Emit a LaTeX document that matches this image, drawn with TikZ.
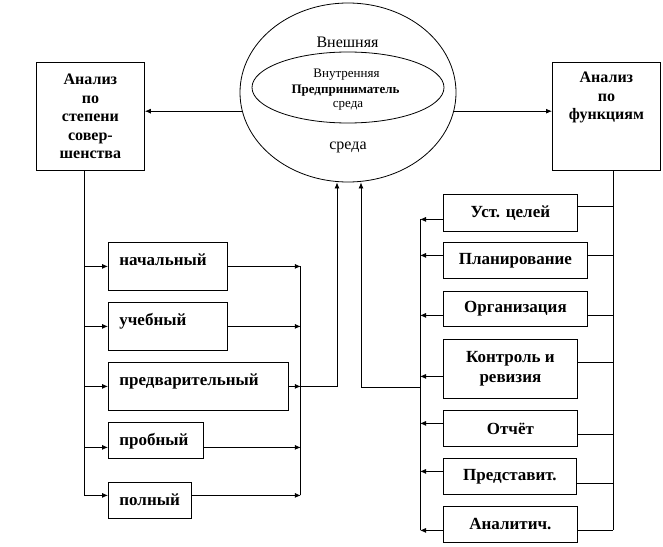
\documentclass[tikz,border=0pt]{standalone}
\usepackage{fontspec}
\setmainfont{Liberation Serif}
\usetikzlibrary{arrows.meta,positioning,shapes.geometric,calc}
\tikzset{
  mybox/.style = {rectangle, draw, line width=0.8pt, anchor=north west, font=\bfseries\fontsize{16}{18.5}\selectfont},
  mylist/.style = {mybox, inner xsep=11pt, inner ysep=0pt, text height=23pt, align=left, font=\bfseries\fontsize{17}{19}\selectfont},
  mystep/.style = {mybox, inner sep=0pt, align=center, font=\bfseries\fontsize{17}{19.5}\selectfont},
  myoval/.style = {ellipse, draw, line width=0.8pt, inner sep=0pt},
  mythin/.style = {line width=0.8pt},
  myarrow/.style = {-{Latex[length=6pt,width=5pt]}, line width=0.8pt},
  mybig/.style = {font=\fontsize{16}{18.5}\selectfont, anchor=base, inner sep=0pt},
  mysmall/.style = {font=\fontsize{13}{15}\selectfont, anchor=base, inner sep=0pt},
}

\begin{document}
\begin{tikzpicture}[x=1pt,y=-1pt]
\useasboundingbox (0,0) rectangle (663,546);
% environment ovals
\node[myoval, minimum width=216pt, minimum height=179pt] (env) at (348,92.5) {};
\node[myoval, minimum width=192pt, minimum height=71pt] (inn) at (348,87.5) {};
\node[mybig] (ext1) at (347.5,47) {Внешняя};
\node[mysmall] (int1) at (346.5,77) {Внутренняя};
\node[mysmall, font=\bfseries\fontsize{13}{15}\selectfont] (ent) at (345.5,93) {Предприниматель};
\node[mysmall] (int2) at (348,107) {среда};
\node[mybig] (ext2) at (348,149) {среда};
% main boxes
\node[mybox, minimum width=108pt, minimum height=108pt, inner sep=0pt, align=center] (sov) at (36,62) {Анализ\\по\\степени\\совер-\\шенства};
\node[mybox, inner xsep=4pt, inner ysep=10pt] (fun) at (552,62) {\parbox[c][88pt][t]{100pt}{\centering Анализ\\по\\функциям}};
\draw[myarrow] (env.190) -- (env.190 -| sov.east);
\draw[myarrow] (env.350) -- (env.350 -| fun.west);
% left list
\node[mylist, text width=97pt, text depth=25pt] (nach) at (108,242) {начальный};
\node[mylist, text width=97pt, text depth=25pt] (uch) at (108,302) {учебный};
\node[mylist, text width=158pt, text depth=25pt] (pred) at (108,362) {предварительный};
\node[mylist, text width=73pt, text depth=13pt] (prob) at (108,422) {пробный};
\node[mylist, text width=61pt, text depth=13pt] (poln) at (108,482) {полный};
\coordinate (lbus) at ([xshift=-6pt]sov.south);
\coordinate (rbus) at ([xshift=12pt]pred.east);
\coordinate (probin) at ([yshift=-7pt]prob.west);
\coordinate (polnin) at ([yshift=5pt]poln.west);
\draw[mythin] (lbus) -- (lbus |- polnin);
\draw[myarrow] (lbus |- nach.west) -- (nach.west);
\draw[myarrow] (lbus |- uch.west) -- (uch.west);
\draw[myarrow] (lbus |- pred.west) -- (pred.west);
\draw[myarrow] (lbus |- probin) -- (probin);
\draw[myarrow] (lbus |- polnin) -- (polnin);
\draw[myarrow] (nach.east) -- (nach.east -| rbus);
\draw[myarrow] (uch.east) -- (uch.east -| rbus);
\draw[myarrow] (pred.east) -- (rbus);
\draw[myarrow] (probin -| prob.east) -- (probin -| rbus);
\draw[myarrow] (polnin -| poln.east) -- (polnin -| rbus);
\draw[mythin] (rbus |- nach.east) -- (rbus |- polnin);
\draw[myarrow] (rbus) -| ([xshift=-11pt]env.south);
% right list
\node[mystep, minimum width=134pt, minimum height=37pt] (ust) at (443,194) {Уст. целей};
\node[mystep, minimum width=144pt, minimum height=36pt] (plan) at (443,242) {Планирование};
\node[mystep, minimum width=144pt, minimum height=35pt] (org) at (443,291) {Организация};
\node[mystep, minimum width=134pt, minimum height=59pt] (kontr) at (443,339) {Контроль и\\ревизия};
\node[mystep, minimum width=134pt, minimum height=36pt] (otch) at (443,410) {Отчёт};
\node[mystep, minimum width=133pt, minimum height=36pt] (pst) at (443,458) {Представит.};
\node[mystep, minimum width=134pt, minimum height=36pt] (anal) at (443,506) {Аналитич.};
\coordinate (fbus) at ([xshift=7pt]fun.south);
\coordinate (gbus) at ([xshift=-23pt]ust.west);
\coordinate (ustin) at ([yshift=-6.5pt]ust.west);
\coordinate (ustout) at ([yshift=6.5pt]ust.east);
\coordinate (planin) at ([yshift=5pt]plan.west);
\coordinate (planout) at ([yshift=5pt]plan.east);
\coordinate (orgin) at ([yshift=-6.5pt]org.west);
\coordinate (orgout) at ([yshift=-6.5pt]org.east);
\coordinate (kontrin) at ([yshift=-7.5pt]kontr.west);
\coordinate (kontrout) at ([yshift=6.5pt]kontr.east);
\coordinate (kontrup) at ([yshift=-18.5pt]kontr.west);
\coordinate (otchin) at ([yshift=5pt]otch.west);
\coordinate (otchout) at ([yshift=-6pt]otch.east);
\coordinate (pstin) at ([yshift=5pt]pst.west);
\coordinate (pstout) at ([yshift=-7pt]pst.east);
\coordinate (analin) at ([yshift=-6pt]anal.west);
\coordinate (analout) at ([yshift=-6pt]anal.east);
\draw[mythin] (fbus) -- (fbus |- analout);
\draw[mythin] (ustout) -- (ustout -| fbus);
\draw[mythin] (planout) -- (planout -| fbus);
\draw[mythin] (orgout) -- (orgout -| fbus);
\draw[mythin] (kontrout) -- (kontrout -| fbus);
\draw[mythin] (otchout) -- (otchout -| fbus);
\draw[mythin] (pstout) -- (pstout -| fbus);
\draw[mythin] (analout) -- (analout -| fbus);
\draw[mythin] (gbus |- ustin) -- (gbus |- analin);
\draw[myarrow] (ustin) -- (ustin -| gbus);
\draw[myarrow] (planin) -- (planin -| gbus);
\draw[myarrow] (orgin) -- (orgin -| gbus);
\draw[myarrow] (kontrin) -- (kontrin -| gbus);
\draw[myarrow] (otchin) -- (otchin -| gbus);
\draw[myarrow] (pstin) -- (pstin -| gbus);
\draw[myarrow] (analin) -- (analin -| gbus);
\draw[myarrow] (kontrup -| gbus) -| ([xshift=13pt]env.south);
\end{tikzpicture}
\end{document}
